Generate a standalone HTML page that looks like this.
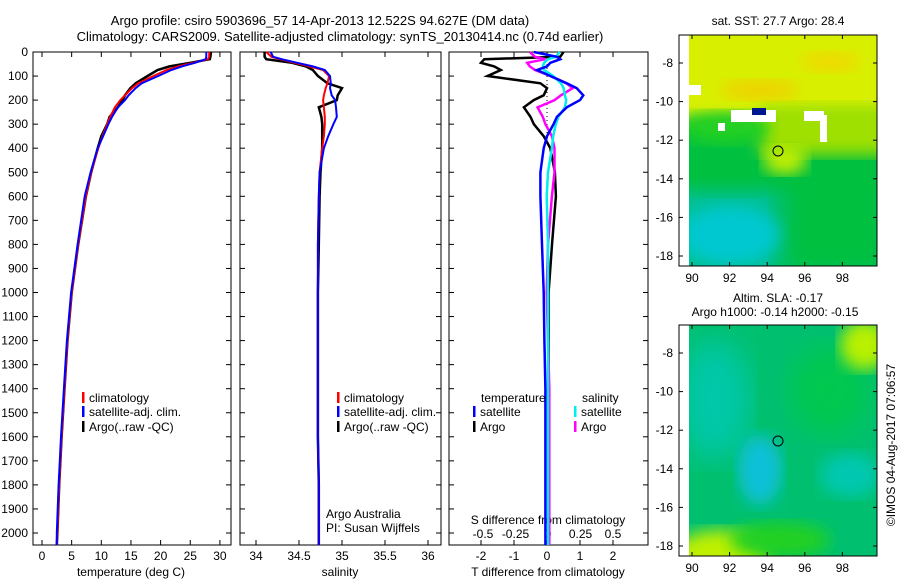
<!DOCTYPE html>
<html><head><meta charset="utf-8"><style>
body{margin:0;background:#fff;}
svg{display:block;font-family:"Liberation Sans",sans-serif;}
</style></head><body>
<svg id="c" width="900" height="580" viewBox="0 0 900 580">
<defs>
<filter id="bl"><feGaussianBlur stdDeviation="8"/></filter>
<filter id="bl2"><feGaussianBlur stdDeviation="14"/></filter>
<clipPath id="m1"><rect x="689" y="35" width="188" height="231"/></clipPath>
<clipPath id="m2"><rect x="689" y="325" width="188" height="231"/></clipPath>
</defs>
<text x="320" y="25" font-size="13" text-anchor="middle">Argo profile: csiro 5903696_57 14-Apr-2013 12.522S 94.627E (DM data)</text>
<text x="340" y="41" font-size="13" text-anchor="middle">Climatology: CARS2009. Satellite-adjusted climatology: synTS_20130414.nc (0.74d earlier)</text>
<g id="plots"></g>
<!-- Map 1: SST -->
<g>
<text x="778" y="25" font-size="12" text-anchor="middle">sat. SST: 27.7 Argo: 28.4</text>
<g clip-path="url(#m1)">
<rect x="689" y="35" width="188" height="231" fill="#00c090"/>
<rect x="660" y="110" width="240" height="80" fill="#00c040" filter="url(#bl)"/>
<rect x="780" y="150" width="120" height="130" fill="#00c040" filter="url(#bl2)"/>
<ellipse cx="730" cy="235" rx="50" ry="30" fill="#00c8d0" filter="url(#bl)"/>
<rect x="660" y="20" width="240" height="100" fill="#d8f000" filter="url(#bl)"/>
<rect x="760" y="105" width="140" height="50" fill="#a0e000" filter="url(#bl)"/>
<ellipse cx="785" cy="160" rx="22" ry="14" fill="#c8f000" filter="url(#bl)"/>
<ellipse cx="725" cy="128" rx="45" ry="16" fill="#20d020" filter="url(#bl)"/>
<ellipse cx="760" cy="90" rx="40" ry="10" fill="#f0d000" filter="url(#bl)"/>
<ellipse cx="830" cy="62" rx="30" ry="10" fill="#f0d800" filter="url(#bl)"/>
<rect x="689" y="85" width="12" height="10" fill="#fff"/>
<rect x="731" y="110" width="45" height="12" fill="#fff"/>
<rect x="752" y="108" width="14" height="7" fill="#001890"/>
<rect x="804" y="111" width="20" height="10" fill="#fff"/>
<rect x="820" y="115" width="7" height="27" fill="#fff"/>
<rect x="718" y="123" width="7" height="8" fill="#fff"/>
</g>
<rect x="679" y="35" width="198" height="231" fill="none" stroke="#000"/>
<circle cx="778" cy="151" r="5" fill="none" stroke="#000"/>
<g id="m1ax"></g>
</g>
<!-- Map 2: SLA -->
<g>
<text x="778" y="302" font-size="12" text-anchor="middle">Altim. SLA: -0.17</text>
<text x="775" y="316" font-size="12" text-anchor="middle">Argo h1000: -0.14 h2000: -0.15</text>
<g clip-path="url(#m2)">
<rect x="689" y="325" width="188" height="231" fill="#00c070"/>
<ellipse cx="715" cy="400" rx="35" ry="60" fill="#00c8a8" filter="url(#bl2)"/>
<ellipse cx="760" cy="470" rx="22" ry="35" fill="#10c0d8" filter="url(#bl)"/>
<ellipse cx="850" cy="475" rx="30" ry="22" fill="#00c8b0" filter="url(#bl)"/>
<ellipse cx="830" cy="390" rx="40" ry="45" fill="#00c850" filter="url(#bl2)"/>
<ellipse cx="865" cy="345" rx="25" ry="25" fill="#b8f000" filter="url(#bl)"/>
<ellipse cx="720" cy="560" rx="50" ry="30" fill="#c0f000" filter="url(#bl)"/>
<ellipse cx="780" cy="540" rx="50" ry="18" fill="#20d020" filter="url(#bl)"/>
</g>
<rect x="679" y="325" width="198" height="231" fill="none" stroke="#000"/>
<circle cx="778" cy="441" r="5" fill="none" stroke="#000"/>
<g id="m2ax"></g>
</g>
<text transform="translate(895,445) rotate(-90)" font-size="12" text-anchor="middle">©IMOS 04-Aug-2017 07:06:57</text>
</svg>
<script>
const depthTicks=[0,100,200,300,400,500,600,700,800,900,1000,1100,1200,1300,1400,1500,1600,1700,1800,1900,2000];
const tempTicks=[0,5,10,15,20,25,30];
const salTicks=["34","34.5","35","35.5","36"];
const tdTicks=[-2,-1,0,1,2];
const sdTicks=["-0.5","-0.25","0","0.25","0.5"];
const depths=[0,20,30,45,60,75,100,130,150,180,200,230,270,300,350,400,500,600,800,1000,1200,1400,1600,1800,2000,2050];
const tempClim=[28.2,28.2,28.0,25.5,23.0,21.0,18.8,16.2,15.2,14.0,13.2,12.3,11.5,11.0,10.2,9.5,8.3,7.4,6.1,5.0,4.3,3.8,3.3,2.9,2.6,2.5];
const tempSat=[27.7,27.7,27.6,25.8,23.6,21.8,19.6,16.8,15.8,14.6,14.0,12.8,11.8,11.2,10.3,9.4,8.2,7.2,6.0,4.9,4.2,3.7,3.2,2.8,2.5,2.5];
const tempArgo=[28.5,28.4,28.3,25.0,21.5,19.5,17.8,15.8,14.9,14.0,13.6,12.8,11.4,11.0,10.0,9.4,8.3,7.4,6.1,5.0,4.3,3.8,3.3,2.9,2.6,2.5];
const salClim=[34.12,34.18,34.28,34.45,34.62,34.78,34.85,34.83,34.81,34.79,34.78,34.79,34.80,34.80,34.79,34.77,34.74,34.73,34.72,34.72,34.72,34.72,34.72,34.73,34.73,34.73];
const salSat=[34.17,34.2,34.3,34.48,34.66,34.8,34.86,34.87,34.86,34.88,34.92,34.93,34.94,34.90,34.84,34.79,34.74,34.73,34.72,34.72,34.72,34.72,34.72,34.73,34.73,34.73];
const salArgo=[34.1,34.1,34.12,34.42,34.58,34.66,34.72,34.83,35.0,34.95,34.94,34.73,34.76,34.77,34.77,34.77,34.75,34.74,34.73,34.72,34.72,34.72,34.72,34.73,34.73,34.73];
const tdSat=[-0.4,0.3,0.4,0.1,0.0,-0.3,0.1,0.6,0.9,1.1,1.0,0.6,0.3,0.2,0.0,-0.1,-0.2,-0.2,-0.15,-0.1,-0.08,-0.05,-0.05,-0.05,-0.05,-0.05];
const tdArgo=[0.5,0.4,-1.9,-2.0,-1.6,-1.4,-1.8,-0.2,0.0,-0.1,-0.4,-0.7,-0.5,-0.4,-0.1,0.1,0.24,0.27,0.15,0.05,0.05,0.05,0.05,0.05,0.05,0.05];
const sdSat=[0.09,0.06,0.0,-0.03,-0.04,-0.03,0.04,0.1,0.12,0.13,0.14,0.13,0.08,0.06,0.04,0.03,0.0,-0.01,0.0,0.0,0.0,0.0,0.0,0.0,0.0,0.0];
const sdArgo=[-0.14,-0.1,-0.02,-0.16,-0.14,-0.1,0.02,0.14,0.19,0.1,0.05,-0.08,-0.04,-0.02,0.03,0.05,0.05,0.03,0.0,-0.01,0.0,0.01,0.01,0.01,0.01,0.01];
const mapLon=[90,92,94,96,98];
const mapLat=[-8,-10,-12,-14,-16,-18];

const NS="http://www.w3.org/2000/svg";
const g=document.getElementById('plots');
function el(t,a,p){const e=document.createElementNS(NS,t);for(const k in a)e.setAttribute(k,a[k]);(p||g).appendChild(e);return e;}
const yD=d=>52+d*0.2405;
const xT=v=>42+v*5.93, xS=v=>256+(v-34)*86, xTD=v=>547+v*33, xSD=v=>548+v*130;
const panels=[[33,231],[240,441],[449,648]];
panels.forEach((p,i)=>{const r=el('rect',{x:p[0],y:52,width:p[1]-p[0],height:493,fill:'none',stroke:'#000'});


depthTicks.forEach(d=>{const y=yD(d);el('line',{x1:p[0],x2:p[0]+5,y1:y,y2:y,stroke:'#000'});el('line',{x1:p[1]-5,x2:p[1],y1:y,y2:y,stroke:'#000'});});});
depthTicks.forEach(d=>{const t=el('text',{x:28,y:yD(d)+4,'font-size':12,'text-anchor':'end'});t.textContent=d;

});
function xticks(vals,fx,y,lab,ticks,name,top){vals.forEach(v=>{const x=fx(+v);if(ticks){el('line',{x1:x,x2:x,y1:545,y2:540,stroke:'#000'});el('line',{x1:x,x2:x,y1:52,y2:57,stroke:'#000'});}
const t=el('text',{x:x,y:y,'font-size':12,'text-anchor':'middle'});t.textContent=lab?lab(v):v;

});}
xticks(tempTicks,xT,560,null,true,'temperature-tick-label');
xticks(salTicks,xS,560,null,true,'salinity-tick-label');
xticks(tdTicks,xTD,560,null,true,'tdiff-tick-label');
xticks(sdTicks,xSD,538,null,false,'sdiff-tick-label');
[['temperature (deg C)',131,'temperature-axis-title'],['salinity',340,'salinity-axis-title'],['T difference from climatology',548,'tdiff-axis-title']].forEach(a=>{const t=el('text',{x:a[1],y:576,'font-size':12,'text-anchor':'middle'});t.textContent=a[0];

});
const st=el('text',{x:548,y:524,'font-size':12,'text-anchor':'middle'});st.textContent='S difference from climatology';


const zl=el('line',{x1:547,x2:547,y1:52,y2:140,stroke:'#000','stroke-dasharray':'1,3'});


function line(vals,fx,col,w,name){const pts=vals.map((v,i)=>fx(v).toFixed(1)+','+yD(depths[i]).toFixed(1)).join(' ');
const e=el('polyline',{points:pts,fill:'none',stroke:col,'stroke-width':w});

}
line(tempArgo,xT,'#000',2.5,'temp-argo-line');line(tempClim,xT,'#f00',2,'temp-clim-line');line(tempSat,xT,'#00f',2,'temp-sat-line');
line(salArgo,xS,'#000',2.5,'sal-argo-line');line(salClim,xS,'#f00',2,'sal-clim-line');line(salSat,xS,'#00f',2,'sal-sat-line');
line(tdArgo,xTD,'#000',2.5,'tdiff-argo-line');line(sdArgo,xSD,'#f0f',2.5,'sdiff-argo-line');line(sdSat,xSD,'#0ee',2.5,'sdiff-sat-line');line(tdSat,xTD,'#00f',2.5,'tdiff-sat-line');
function leg(x,y,col,txt,name){el('rect',{x:x,y:y-10,width:2.5,height:11,fill:col});const t=el('text',{x:x+7,y:y,'font-size':12});t.textContent=txt;

}
[[82],[337]].forEach((p,i)=>{leg(p[0],402,'#f00','climatology','legend-climatology');leg(p[0],416,'#00f','satellite-adj. clim.','legend-satellite');leg(p[0],431,'#000','Argo(..raw -QC)','legend-argo');});
const tt=el('text',{x:481,y:402,'font-size':12});tt.textContent='temperature';


const sh=el('text',{x:582,y:402,'font-size':12});sh.textContent='salinity';


leg(473,416,'#00f','satellite','legend-t-satellite');leg(473,431,'#000','Argo','legend-t-argo');
leg(574,416,'#0ee','satellite','legend-s-satellite');leg(574,431,'#f0f','Argo','legend-s-argo');
const a1=el('text',{x:326,y:518,'font-size':12});a1.textContent='Argo Australia';


const a2=el('text',{x:326,y:532,'font-size':12});a2.textContent='PI: Susan Wijffels';


[['m1ax',35,266],['m2ax',325,556]].forEach(m=>{const pg=document.getElementById(m[0]);
mapLon.forEach(v=>{const x=692+(v-90)*18.8;el('line',{x1:x,x2:x,y1:m[2],y2:m[2]-4,stroke:'#000'},pg);el('line',{x1:x,x2:x,y1:m[1],y2:m[1]+4,stroke:'#000'},pg);
const t=el('text',{x:x,y:m[2]+16,'font-size':12,'text-anchor':'middle'},pg);t.textContent=v;

});
mapLat.forEach(v=>{const y=m[1]+28+(-8-v)*19.3;el('line',{x1:679,x2:683,y1:y,y2:y,stroke:'#000'},pg);el('line',{x1:873,x2:877,y1:y,y2:y,stroke:'#000'},pg);
const t=el('text',{x:673,y:y+4,'font-size':12,'text-anchor':'end'},pg);t.textContent=v;

});});
</script>
</body></html>
